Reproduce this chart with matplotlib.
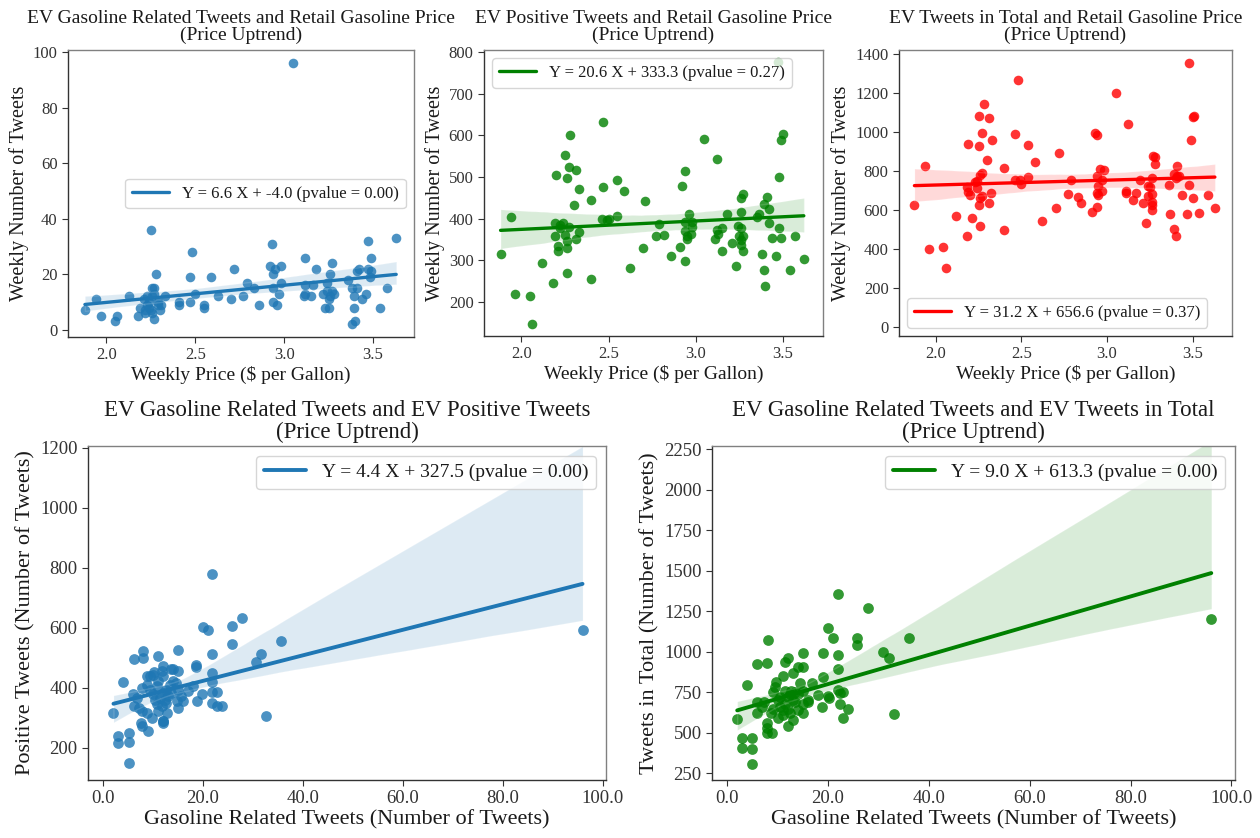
import matplotlib
matplotlib.use("Agg")
import matplotlib.pyplot as plt
import seaborn as sns
import numpy as np

# ---------------- data ----------------
price_gas = [1.88,1.94,1.97,2.05,2.06,2.13,2.18,2.19,2.21,2.22,2.23,2.24,2.25,2.26,2.26,2.27,2.27,2.28,2.27,2.25,
             2.26,2.24,2.23,2.29,2.30,2.31,2.33,2.29,2.22,2.41,2.41,2.47,2.47,2.48,2.50,2.55,2.55,2.59,2.63,2.70,
             2.72,2.77,2.79,2.83,2.86,2.92,2.93,2.94,2.94,2.94,2.95,2.96,2.97,2.98,2.98,3.05,3.11,3.12,3.12,3.12,
             3.15,3.16,3.18,3.22,3.23,3.25,3.24,3.26,3.27,3.25,3.26,3.27,3.28,3.24,3.36,3.38,3.38,3.39,3.39,3.40,
             3.41,3.42,3.41,3.44,3.46,3.47,3.47,3.48,3.49,3.49,3.54,3.58,3.63]
gas_tweets = [7,11,5,3,5,12,5,8,11,6,9,10,36,12,15,15,13,20,4,7,
              6,8,12,10,7,9,12,9,7,9,10,10,19,28,13,8,9,19,12,11,
              22,12,17,15,9,23,31,20,15,10,22,9,13,17,23,96,12,13,26,16,
              12,16,22,13,8,8,17,20,24,11,12,14,13,14,18,2,15,12,8,3,
              21,22,15,11,13,22,32,19,21,26,8,15,33]

price_pos = [1.88,1.94,1.96,2.05,2.06,2.12,2.18,2.19,2.19,2.20,2.21,2.21,2.22,2.22,2.25,2.27,2.26,2.28,2.31,2.30,
             2.33,2.33,2.31,2.26,2.26,2.26,2.25,2.27,2.24,2.40,2.40,2.47,2.47,2.46,2.49,2.50,2.55,2.55,2.59,2.62,
             2.70,2.71,2.77,2.79,2.82,2.86,2.91,2.92,2.94,2.94,2.94,2.95,2.95,2.94,2.96,2.98,2.97,2.98,3.05,3.12,
             3.11,3.12,3.13,3.15,3.15,3.18,3.23,3.24,3.25,3.26,3.26,3.26,3.27,3.27,3.26,3.26,3.27,3.21,3.35,3.36,
             3.38,3.39,3.39,3.40,3.41,3.42,3.42,3.44,3.46,3.47,3.48,3.48,3.49,3.49,3.50,3.54,3.57,3.62]
pos_tweets = [314,405,219,215,147,293,246,389,359,505,333,321,378,385,552,523,497,600,517,433,
              472,369,351,330,345,269,360,380,390,445,254,475,631,400,397,400,406,493,467,281,
              329,443,359,387,360,311,331,479,393,515,370,358,351,297,410,392,362,381,592,544,
              352,372,363,378,323,412,285,383,358,348,378,337,322,358,415,449,458,342,405,410,
              314,435,276,238,453,424,389,354,311,775,377,501,354,590,604,276,359,302]

price_total = [1.875,1.935,1.96,2.04,2.06,2.12,2.18,2.18,2.19,2.20,2.19,2.21,2.23,2.24,2.25,2.25,2.26,2.25,2.26,2.27,
               2.24,2.26,2.27,2.27,2.28,2.30,2.31,2.31,2.32,2.33,2.40,2.40,2.46,2.48,2.46,2.49,2.50,2.54,2.54,2.58,
               2.62,2.70,2.72,2.77,2.79,2.83,2.85,2.91,2.93,2.94,2.94,2.95,2.94,2.95,2.94,2.96,2.98,2.97,2.97,3.05,
               3.12,3.11,3.11,3.15,3.17,3.19,3.21,3.23,3.24,3.25,3.24,3.26,3.27,3.28,3.28,3.26,3.26,3.26,3.26,3.36,
               3.37,3.39,3.40,3.41,3.39,3.40,3.41,3.42,3.44,3.47,3.48,3.48,3.49,3.50,3.51,3.50,3.54,3.59,3.63]
total_tweets = [624,827,400,410,301,568,468,720,695,679,940,559,742,747,926,1080,516,624,662,670,
                713,781,790,995,1142,858,1072,636,685,957,817,499,988,1265,752,752,735,933,771,844,
                542,610,892,684,755,665,636,590,993,983,773,725,690,675,614,812,803,752,699,1200,
                1043,696,690,653,690,752,637,532,721,716,670,627,879,872,836,764,680,640,600,726,
                580,785,764,776,503,468,827,773,675,580,1354,730,960,1077,1084,662,585,675,610]

gas_bl = [2.1,3.1,3.1,5.2,5.2,5.2,4.1,6.2,8.0,8.0,6.0,6.9,6.2,7.7,7.8,9.0,11.0,10.0,10.2,12.0,
          12.0,14.0,15.0,15.0,7.8,8.8,9.5,10.1,10.8,11.4,12.1,12.7,13.1,12.7,11.8,11.1,10.8,9.8,8.8,7.8,
          7.2,12.9,12.1,15.0,13.4,14.1,14.7,15.0,15.7,16.0,17.0,18.0,14.9,9.5,11.8,8.8,13.7,11.1,10.5,12.4,
          13.7,12.0,12.0,18.6,18.6,18.8,19.8,20.0,21.0,21.9,21.9,21.9,21.9,21.9,22.9,22.9,23.9,25.8,25.8,27.9,
          30.7,31.7,32.7,35.7,21.9,96.0]
pos_bl = [316,239,214,250,217,147,419,496,522,498,380,366,338,283,272,255,506,443,451,473,
          438,462,454,524,399,410,393,380,404,366,382,393,371,349,338,322,344,299,316,322,
          333,314,288,333,410,421,415,393,371,355,388,404,355,437,454,440,463,421,360,360,
          382,282,290,476,468,355,380,603,592,418,448,513,384,347,384,338,338,606,545,633,
          484,512,305,556,780,593]

gas_br = [2.0,3.0,3.0,4.0,5.0,5.0,5.0,6.0,6.0,6.0,7.0,7.4,8.1,8.0,7.9,7.9,8.0,8.9,8.7,9.0,
          9.4,9.7,10.0,10.5,11.0,11.5,12.0,13.0,11.0,10.0,11.5,12.0,12.4,12.7,13.0,13.5,12.5,12.0,13.0,14.0,
          15.0,15.0,14.5,15.0,15.0,15.0,16.0,16.9,18.0,18.9,19.0,19.0,20.0,20.0,20.2,21.0,22.0,22.0,22.0,22.0,
          22.3,22.3,23.0,23.0,24.0,25.8,25.8,27.9,31.0,32.0,33.0,36.0,96.0,9.0,10.5,11.5,13.5,14.0,16.0,11.0,
          12.0,14.0]
total_br = [583,470,404,795,470,400,306,922,692,624,660,690,1070,929,560,530,500,500,620,750,
            780,815,700,660,850,940,960,867,640,590,680,720,740,760,700,690,620,540,580,908,
            908,991,810,760,680,620,690,805,733,661,845,991,1145,727,712,1083,1357,980,892,764,
            744,678,754,590,645,1083,1042,1268,997,960,616,1083,1202,650,720,760,750,740,700,610,
            650,640]

titles = ["EV Gasoline Related Tweets and Retail Gasoline Price\n(Price Uptrend)",
          "EV Positive Tweets and Retail Gasoline Price\n(Price Uptrend)",
          "EV Tweets in Total and Retail Gasoline Price\n(Price Uptrend)",
          "EV Gasoline Related Tweets and EV Positive Tweets\n(Price Uptrend)",
          "EV Gasoline Related Tweets and EV Tweets in Total\n(Price Uptrend)"]
legend_labels = ["Y = 6.6 X + -4.0 (pvalue = 0.00)",
                 "Y = 20.6 X + 333.3 (pvalue = 0.27)",
                 "Y = 31.2 X + 656.6 (pvalue = 0.37)",
                 "Y = 4.4 X + 327.5 (pvalue = 0.00)",
                 "Y = 9.0 X + 613.3 (pvalue = 0.00)"]
xlabels = ["Weekly Price ($ per Gallon)"] * 3 + ["Gasoline Related Tweets (Number of Tweets)"] * 2
ylabels = ["Weekly Number of Tweets"] * 3 + ["Positive Tweets (Number of Tweets)",
                                             "Tweets in Total (Number of Tweets)"]
yticks = [[0, 20, 40, 60, 80, 100],
          [200, 300, 400, 500, 600, 700, 800],
          [0, 200, 400, 600, 800, 1000, 1200, 1400],
          [200, 400, 600, 800, 1000, 1200],
          [250, 500, 750, 1000, 1250, 1500, 1750, 2000, 2250]]
price_ticks = [2.0, 2.5, 3.0, 3.5]
count_ticks = [0, 20, 40, 60, 80, 100]

# ---------------- style ----------------
sns.set_style("ticks")
plt.rcParams["font.family"] = ["Liberation Serif", "DejaVu Serif"]
plt.rcParams["text.color"] = "0.1"
plt.rcParams["axes.labelcolor"] = "0.1"
plt.rcParams["xtick.color"] = "0.2"
plt.rcParams["ytick.color"] = "0.2"

fig = plt.figure(figsize=(12.6, 8.38), dpi=100)
W, H = 1260.0, 838.0
def box(l, t, r, b):
    return [l / W, 1 - b / H, (r - l) / W, (b - t) / H]

axes = [fig.add_axes(box(68, 50, 414, 337)),
        fig.add_axes(box(484, 50, 823, 336)),
        fig.add_axes(box(899, 50, 1232, 336)),
        fig.add_axes(box(88, 446, 606, 780)),
        fig.add_axes(box(712, 446, 1235, 780))]

datasets = [(price_gas, gas_tweets), (price_pos, pos_tweets), (price_total, total_tweets),
            (gas_bl, pos_bl), (gas_br, total_br)]
colors = ["#1f77b4", "green", "red", "#1f77b4", "green"]
locs = ["center right", "upper left", "lower left", "upper right", "upper right"]
ylims = [(-2.6, 100.7), (118, 805), (-45, 1420), (92, 1205), (209, 2270)]

for i, ax in enumerate(axes):
    x, y = datasets[i]
    top = i < 3
    sns.regplot(x=np.array(x, float), y=np.array(y, float), ax=ax, color=colors[i], seed=3,
                scatter_kws={"s": 48 if top else 60, "alpha": 0.8, "linewidths": 0},
                line_kws={"lw": 2.4 if top else 2.8, "label": legend_labels[i]})
    ax.set_title(titles[i], fontsize=14 if top else 16.5, linespacing=1.0, pad=7 if top else 6)
    ax.set_xlabel(xlabels[i], fontsize=14 if top else 16, labelpad=2)
    ax.set_ylabel(ylabels[i], fontsize=14.5 if top else 16, labelpad=3)
    ax.tick_params(labelsize=12 if top else 13.5, length=4)
    for name, s in ax.spines.items():
        s.set_visible(True)
        s.set_linewidth(1.0)
        s.set_color("0.2" if name in ("left", "bottom") else "0.5")
    ax.set_yticks(yticks[i])
    if top:
        ax.set_xticks(price_ticks)
        ax.set_xlim(1.785, 3.73)
    else:
        ax.set_xticks(count_ticks)
        ax.set_xlim(-3.0, 100.7)
        ax.xaxis.set_major_formatter(matplotlib.ticker.FormatStrFormatter("%.1f"))
    ax.set_ylim(*ylims[i])
    ax.legend(loc=locs[i], fontsize=12 if top else 14, handlelength=2.2)

fig.savefig("out.png", dpi=100)
